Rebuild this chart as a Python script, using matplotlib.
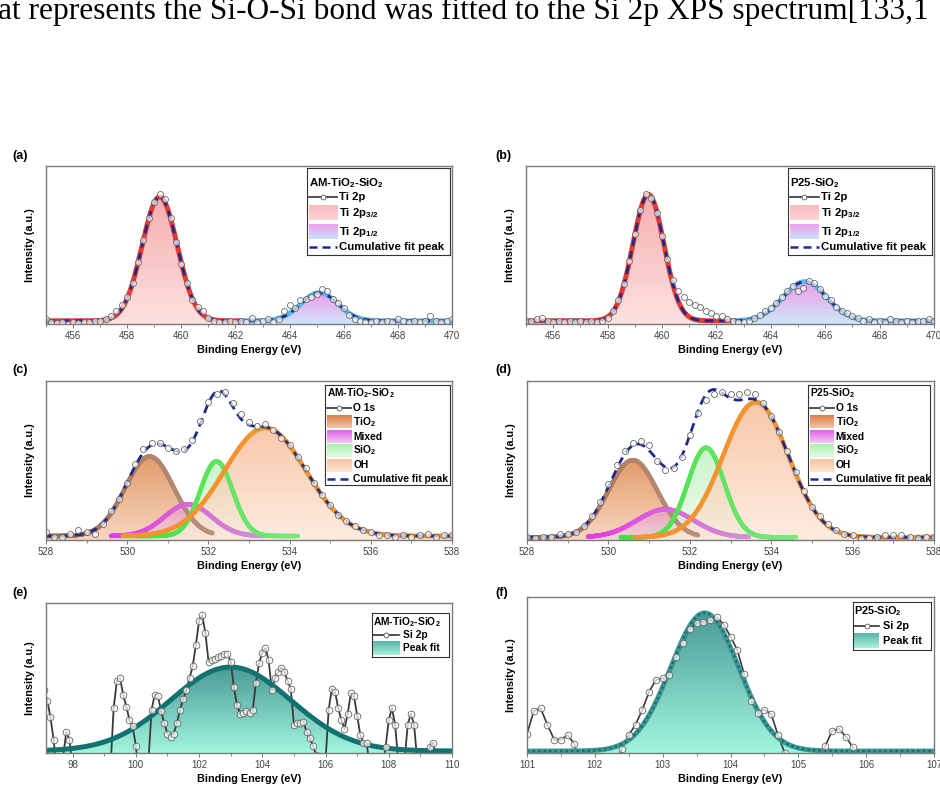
import numpy as np
import matplotlib
matplotlib.use("Agg")
import matplotlib.pyplot as plt
from matplotlib.colors import to_rgba
from matplotlib.collections import LineCollection
from matplotlib.ticker import MultipleLocator

plt.rcParams['font.family'] = 'Liberation Sans'
plt.rcParams['mathtext.fontset'] = 'custom'
plt.rcParams['mathtext.rm'] = 'Liberation Sans'
plt.rcParams['mathtext.bf'] = 'Liberation Sans:bold'

W, H = 940, 789

# ---------------- Ti 2p ----------------
ti_x = np.round(np.arange(455.0, 470.01, 0.2), 1)
ti_am_y = [0.03, 0.01, 0.005, 0.01, 0.00, 0.01, 0.005, 0.01, 0.015, 0.02,
           0.02, 0.03, 0.05, 0.08, 0.12, 0.17, 0.26, 0.39, 0.53, 0.67,
           0.77, 0.82, 0.79, 0.67, 0.52, 0.38, 0.26, 0.15, 0.11, 0.08,
           0.04, 0.02, 0.01, 0.01, 0.02, 0.01, 0.02, 0.01, 0.04, 0.01,
           0.02, 0.03, 0.01, 0.03, 0.08, 0.12, 0.10, 0.15, 0.16, 0.17,
           0.19, 0.22, 0.21, 0.16, 0.13, 0.10, 0.06, 0.03, 0.02, 0.01,
           0.015, 0.02, 0.01, 0.02, 0.01, 0.03, 0.02, 0.01, 0.02, 0.01,
           0.02, 0.05, 0.02, 0.01, 0.02, 0.03]
ti_p25_y = [0.02, 0.02, 0.03, 0.04, 0.02, 0.01, 0.02, 0.01, 0.02, 0.01,
            0.02, 0.01, 0.02, 0.01, 0.02, 0.04, 0.08, 0.15, 0.25, 0.40,
            0.57, 0.72, 0.82, 0.80, 0.70, 0.56, 0.41, 0.28, 0.21, 0.17,
            0.14, 0.12, 0.11, 0.08, 0.07, 0.05, 0.05, 0.03, 0.02, 0.01,
            0.01, 0.02, 0.04, 0.06, 0.08, 0.10, 0.13, 0.17, 0.21, 0.24,
            0.21, 0.23, 0.27, 0.26, 0.22, 0.18, 0.15, 0.11, 0.08, 0.07,
            0.05, 0.04, 0.02, 0.03, 0.01, 0.02, 0.01, 0.03, 0.02, 0.01,
            0.02, 0.01, 0.02, 0.02, 0.03, 0.02]
# fitted peaks: (centre eV, height, sigma), drawn over (start, end)
ti_am_base = 0.02
ti_am_peaks = [(459.2, 0.785, 0.65), (465.1, 0.178, 0.68)]
ti_am_spans = [(455.0, 462.2), (462.2, 470.0)]
ti_p25_base = 0.02
ti_p25_peaks = [(459.5, 0.80, 0.57), (465.25, 0.248, 0.80)]
ti_p25_spans = [(455.0, 462.6), (462.6, 470.0)]

# ---------------- O 1s ----------------
o_x = np.round(np.arange(528.0, 538.01, 0.2), 1)
o_am_y = [0.05, 0.02, 0.02, 0.04, 0.06, 0.05, 0.04, 0.10, 0.18, 0.26,
          0.36, 0.48, 0.57, 0.61, 0.61, 0.58, 0.56, 0.57, 0.63, 0.75,
          0.87, 0.92, 0.93, 0.86, 0.79, 0.74, 0.72, 0.73, 0.69, 0.64,
          0.60, 0.52, 0.45, 0.36, 0.28, 0.22, 0.16, 0.12, 0.09, 0.06,
          0.05, 0.03, 0.03, 0.02, 0.03, 0.02, 0.03, 0.04, 0.02, 0.03,
          0.03]
o_p25_y = [0.02, 0.01, 0.02, 0.02, 0.04, 0.04, 0.05, 0.09, 0.15, 0.24,
           0.35, 0.47, 0.56, 0.61, 0.62, 0.60, 0.50, 0.44, 0.45, 0.52,
           0.66, 0.80, 0.88, 0.92, 0.93, 0.92, 0.92, 0.93, 0.92, 0.86,
           0.78, 0.68, 0.56, 0.43, 0.31, 0.21, 0.15, 0.10, 0.06, 0.04,
           0.03, 0.01, 0.01, 0.02, 0.03, 0.03, 0.03, 0.02, 0.01, 0.02,
           0.02]
# order: TiO2, Mixed, SiO2, OH
o_am_base = 0.025
o_am_peaks = [(530.55, 0.50, 0.60), (531.5, 0.20, 0.58), (532.2, 0.47, 0.40), (533.4, 0.68, 1.00)]
o_am_spans = [(528.0, 532.1), (529.6, 533.4), (529.9, 534.2), (529.9, 538.0)]
o_p25_base = 0.017
o_p25_peaks = [(530.6, 0.485, 0.60), (531.4, 0.176, 0.70), (532.4, 0.563, 0.45), (533.62, 0.85, 0.80)]
o_p25_spans = [(528.0, 532.2), (529.5, 533.45), (530.3, 534.6), (530.65, 538.0)]

# ---------------- Si 2p ----------------
si_am_x = np.round(np.arange(97.1, 110.01, 0.1), 1)
si_am_y = [0.42, 0.35, 0.24, 0.09, -0.12, -0.10, -0.03, 0.14, 0.09, -0.10,
           -0.25, -0.30, -0.28, -0.30, -0.32, -0.28, -0.30, -0.26, -0.20, -0.15,
           -0.20, -0.10, 0.30, 0.48, 0.50, 0.39, 0.31, 0.22, 0.18, 0.05,
           -0.15, -0.25, -0.10, -0.05, 0.29, 0.39, 0.38, 0.28, 0.20, 0.13,
           0.11, 0.13, 0.20, 0.29, 0.36, 0.42, 0.50, 0.58, 0.72, 0.88,
           0.92, 0.80, 0.61, 0.62, 0.63, 0.64, 0.65, 0.66, 0.66, 0.61,
           0.44, 0.32, 0.26, 0.27, 0.28, 0.27, 0.29, 0.47, 0.60, 0.67,
           0.70, 0.62, 0.42, 0.50, 0.54, 0.57, 0.54, 0.48, 0.43, 0.19,
           0.20, 0.20, 0.21, 0.14, 0.10, 0.05, -0.01, -0.20, -0.15, -0.05,
           0.29, 0.43, 0.41, 0.30, 0.22, 0.16, 0.26, 0.40, 0.38, 0.25,
           0.12, 0.07, 0.07, -0.10, -0.25, -0.25, -0.20, -0.10, 0.04, 0.22,
           0.30, 0.19, -0.05, -0.20, -0.05, 0.19, 0.26, 0.19, -0.05, -0.20,
           -0.20, -0.05, 0.04, 0.07, -0.05, -0.20, -0.25, -0.20, -0.15, -0.20]
si_p25_x = np.round(np.arange(101.0, 107.01, 0.1), 1)
si_p25_y = [0.13, 0.28, 0.30, 0.19, 0.09, 0.09, 0.12, 0.06, -0.15, -0.25,
            -0.30, -0.30, -0.25, -0.10, 0.03, 0.12, 0.19, 0.29, 0.41, 0.49,
            0.50, 0.52, 0.64, 0.74, 0.83, 0.87, 0.88, 0.89, 0.91, 0.86,
            0.78, 0.69, 0.53, 0.35, 0.27, 0.29, 0.26, 0.12, 0.00, -0.20,
            -0.30, -0.30, -0.25, -0.15, 0.05, 0.15, 0.16, 0.11, 0.04, -0.05,
            -0.20, -0.25, -0.30, -0.25, -0.20, -0.20, -0.15, -0.10, -0.05, -0.15,
            -0.20]
si_am_base = 0.013
si_am_peak = (103.0, 0.56, 1.9)
si_p25_base = 0.013
si_p25_peak = (103.62, 0.925, 0.50)

NAVY = '#1c2a8e'


def gauss(x, c, h, s):
    return h * np.exp(-(x - c) ** 2 / (2 * s * s))


def px_axes(l, t, r, b):
    return [l / W, 1 - b / H, (r - l) / W, (b - t) / H]


def gradient_img(top, bottom, alpha=1.0):
    t = np.linspace(0, 1, 256)[:, None, None]
    c0 = np.array(to_rgba(bottom))
    c1 = np.array(to_rgba(top))
    img = c0 + (c1 - c0) * t
    img[..., 3] = alpha
    return img


def gradient_fill(ax, x, y, base, top, bottom, alpha=1.0, zorder=2):
    poly = ax.fill_between(x, base, y, color='none', lw=0)
    im = ax.imshow(gradient_img(top, bottom, alpha),
                   extent=[x.min(), x.max(), base, y.max()],
                   origin='lower', aspect='auto', zorder=zorder,
                   interpolation='bilinear')
    im.set_clip_path(poly.get_paths()[0], transform=ax.transData)


def gradient_line(ax, x, y, c_left, c_right, lw, zorder):
    pts = np.column_stack([x, y])
    segs = np.stack([pts[:-1], pts[1:]], axis=1)
    t = np.linspace(0, 1, len(segs))[:, None]
    cols = (1 - t) * np.array(to_rgba(c_left)) + t * np.array(to_rgba(c_right))
    ax.add_collection(LineCollection(segs, colors=cols, linewidths=lw,
                                     capstyle='round', zorder=zorder))


def style_axes(ax, xlim, ylim, major, minor):
    ax.set_xlim(*xlim)
    ax.set_ylim(*ylim)
    ax.set_yticks([])
    ax.xaxis.set_major_locator(MultipleLocator(major))
    ax.xaxis.set_minor_locator(MultipleLocator(minor))
    ax.tick_params(axis='x', which='major', length=3, width=0.7, color='#777',
                   labelsize=7, labelcolor='#444', pad=2)
    ax.tick_params(axis='x', which='minor', length=2, width=0.6, color='#777')
    for s in ax.spines.values():
        s.set_color('#7a7a7a')
        s.set_linewidth(1.0)
        s.set_zorder(20)
    ax.set_xlabel('Binding Energy (eV)', fontsize=7.8, fontweight='bold', labelpad=3)
    ax.set_ylabel('Intensity (a.u.)', fontsize=7.8, fontweight='bold', labelpad=8)


def draw_legend(ax, rect, title, entries, rows, fs, hx=(0.014, 0.21), tx=0.226, ph=0.14):
    lg = ax.inset_axes(rect)
    lg.set_zorder(30)
    lg.set_facecolor('white')
    lg.text(hx[0], rows[0], title, fontsize=fs, fontweight='bold', va='center')
    for (kind, label, style), ry in zip(entries, rows[1:]):
        if kind == 'data':
            lg.plot(hx, [ry, ry], color='#333', lw=1.2)
            lg.plot([(hx[0] + hx[1]) / 2], [ry], 'o', mfc='white', mec='#555', mew=0.6, ms=3.5)
        elif kind == 'patch':
            lg.imshow(gradient_img(style[0], style[1]),
                      extent=[hx[0], hx[1], ry - ph / 2, ry + ph / 2],
                      origin='lower', aspect='auto', interpolation='bilinear')
        elif kind == 'dash':
            lg.plot(hx, [ry, ry], color=NAVY, lw=1.8, dashes=(3.2, 2.0))
        lg.text(tx, ry, label, fontsize=fs, fontweight='bold', va='center')
    lg.set_xlim(0, 1)
    lg.set_ylim(0, 1)
    lg.set_xticks([])
    lg.set_yticks([])
    for s in lg.spines.values():
        s.set_color('#333')
        s.set_linewidth(0.8)


def plot_data(ax, x, y, line=True, lw=1.0, zl=1.5, zm=7, ms=4.3):
    if line:
        ax.plot(x, y, color='#3a3a3a', lw=lw, zorder=zl)
    ax.plot(x, y, 'o', ls='none', mfc=(1, 1, 1, 0.7), mec='#666', mew=0.6, ms=ms, zorder=zm)


fig = plt.figure(figsize=(W / 100, H / 100), dpi=100)

fig.text(-2 / W, 1 - 19 / H, 'at represents the Si-O-Si bond was fitted to the Si 2p XPS spectrum[133,1',
         family='Liberation Serif', fontsize=22.6, va='baseline', ha='left')


def fig_label(x, y, s):
    fig.text(x / W, 1 - y / H, s, fontsize=9, fontweight='bold', va='center', ha='left')


# ---------------- panels (a), (b): Ti 2p ----------------
ti_styles = [('#e8392f', '#f6aeb0', '#fde2e0'), ('#5db7ec', '#ee9ae8', '#cfe6fa')]
ti_panels = [
    (px_axes(46, 166, 452, 324), ti_am_y, ti_am_base, ti_am_peaks, ti_am_spans,
     r'AM-TiO$_\mathbf{2}$-SiO$_\mathbf{2}$', '(a)', 12),
    (px_axes(526, 166, 934, 324), ti_p25_y, ti_p25_base, ti_p25_peaks, ti_p25_spans,
     r'P25-SiO$_\mathbf{2}$', '(b)', 495),
]
for rect, ydat, base, peaks, spans, name, tag, lx in ti_panels:
    ax = fig.add_axes(rect)
    fine = np.linspace(455, 470, 900)
    total = base + sum(gauss(fine, *p) for p in peaks)
    for (c, h, s), (lo, hi), (lc, ft, fb) in zip(peaks, spans, ti_styles):
        xs = np.linspace(lo, hi, 400)
        ys = base + gauss(xs, c, h, s)
        gradient_fill(ax, xs, ys, 0.0, ft, fb, zorder=2)
        ax.plot(xs, ys, color=lc, lw=3.6, zorder=3, solid_capstyle='butt')
    ax.plot(fine, total, color=NAVY, lw=2.0, dashes=(3.2, 2.0), zorder=5)
    plot_data(ax, ti_x, ydat, line=False)
    style_axes(ax, (455, 470), (0, 1), 2, 1)
    draw_legend(ax, [0.643, 0.437, 0.352, 0.55], name,
                [('data', 'Ti 2p', None),
                 ('patch', r'Ti 2p$_\mathbf{3/2}$', ('#f7bcbc', '#fbd5d3')),
                 ('patch', r'Ti 2p$_\mathbf{1/2}$', ('#f0a0f0', '#c8e2fa')),
                 ('dash', 'Cumulative fit peak', None)],
                rows=[0.83, 0.67, 0.486, 0.268, 0.09], fs=8.2, ph=0.17)
    fig_label(lx, 156, tag)

# ---------------- panels (c), (d): O 1s ----------------
o_lines = [('#a86a48', '#b8907c'), ('#e03ce0', '#cf92d2'), ('#3ee23e', '#7ce67c'), ('#f29531', '#f29531')]
o_fills = [('#df8a4f', '#f6d0b6', 0.85), ('#e27ae2', '#f3cdf3', 0.45),
           ('#a6eea6', '#e2f8e2', 0.6), ('#f6b68c', '#fde6d8', 0.75)]
o_panels = [
    (px_axes(46, 381, 452, 540), o_am_y, o_am_base, o_am_peaks, o_am_spans,
     r'AM-TiO$_\mathbf{2}$-SiO$_\mathbf{2}$', '(c)', 12, [0.687, 0.345, 0.308, 0.628]),
    (px_axes(527, 381, 934, 540), o_p25_y, o_p25_base, o_p25_peaks, o_p25_spans,
     r'P25-SiO$_\mathbf{2}$', '(d)', 495, [0.691, 0.345, 0.299, 0.628]),
]
fill_order = [3, 0, 1, 2]
for rect, ydat, base, peaks, spans, name, tag, lx, lrect in o_panels:
    ax = fig.add_axes(rect)
    fine = np.linspace(528, 538, 900)
    total = base + sum(gauss(fine, *p) for p in peaks)
    for i in fill_order:
        (c, h, s), (lo, hi) = peaks[i], spans[i]
        xs = np.linspace(lo, hi, 400)
        ys = base + gauss(xs, c, h, s)
        ft, fb, al = o_fills[i]
        gradient_fill(ax, xs, ys, 0.0, ft, fb, alpha=al, zorder=2 + i * 0.1)
    for i in range(4):
        (c, h, s), (lo, hi) = peaks[i], spans[i]
        xs = np.linspace(lo, hi, 400)
        ys = base + gauss(xs, c, h, s)
        gradient_line(ax, xs, ys, o_lines[i][0], o_lines[i][1], 3.2, zorder=3 + i * 0.1)
    ax.plot(fine, total, color=NAVY, lw=2.0, dashes=(3.2, 2.0), zorder=5)
    plot_data(ax, o_x, ydat, line=False)
    style_axes(ax, (528, 538), (0, 1), 2, 1)
    draw_legend(ax, lrect, name,
                [('data', 'O 1s', None),
                 ('patch', r'TiO$_\mathbf{2}$', ('#d9804a', '#f2c4a4')),
                 ('patch', 'Mixed', ('#e060e8', '#f4c8f4')),
                 ('patch', r'SiO$_\mathbf{2}$', ('#b0f0b0', '#e2fbe2')),
                 ('patch', 'OH', ('#f7c3a0', '#fde4d4')),
                 ('dash', 'Cumulative fit peak', None)],
                rows=[0.917, 0.773, 0.633, 0.483, 0.35, 0.20, 0.06], fs=7.4, ph=0.13)
    fig_label(lx, 370, tag)

# ---------------- panels (e), (f): Si 2p ----------------
ax = fig.add_axes(px_axes(46, 603, 452, 753))
fine = np.linspace(97.16, 110, 900)
fit = si_am_base + gauss(fine, *si_am_peak)
gradient_fill(ax, fine, fit, 0.0, '#4a9a97', '#a2f6de', zorder=2)
plot_data(ax, si_am_x, si_am_y, lw=1.3, zl=3, zm=6, ms=4.8)
ax.plot(fine, fit, color='#13726f', lw=3.6, zorder=4)
style_axes(ax, (97.16, 110), (0, 1), 2, 1)
draw_legend(ax, [0.802, 0.64, 0.191, 0.293], r'AM-TiO$_\mathbf{2}$-SiO$_\mathbf{2}$',
            [('data', 'Si 2p', None), ('patch', 'Peak fit', ('#5ab3a8', '#a6f3dc'))],
            rows=[0.80, 0.50, 0.20], fs=7.4, hx=(0.013, 0.353), tx=0.404, ph=0.3)
fig_label(12, 593, '(e)')

f_top = 597
ax = fig.add_axes(px_axes(527, f_top, 934, 753))
fine = np.linspace(101, 107, 900)
fit = si_p25_base + gauss(fine, *si_p25_peak)
gradient_fill(ax, fine, fit, 0.0, '#4a9a97', '#a2f6de', zorder=2)
plot_data(ax, si_p25_x, si_p25_y, lw=1.2, zl=3, zm=6, ms=4.8)
ax.plot(fine, fit, color='#3b9a96', lw=3.6, zorder=4)
ax.plot(fine, fit, color='#1d6d6a', lw=1.8, dashes=(1.0, 1.2), zorder=4.5)
style_axes(ax, (101, 107), (0, (753 - f_top) / 149.3), 1, 0.5)
draw_legend(ax, [0.802, 0.66, 0.19, 0.31], r'P25-SiO$_\mathbf{2}$',
            [('data', 'Si 2p', None), ('patch', 'Peak fit', ('#5ab3a8', '#a6f3dc'))],
            rows=[0.80, 0.49, 0.19], fs=7.8, hx=(0.013, 0.33), tx=0.38, ph=0.3)
fig_label(495, 593, '(f)')

fig.savefig('out.png', dpi=100)
